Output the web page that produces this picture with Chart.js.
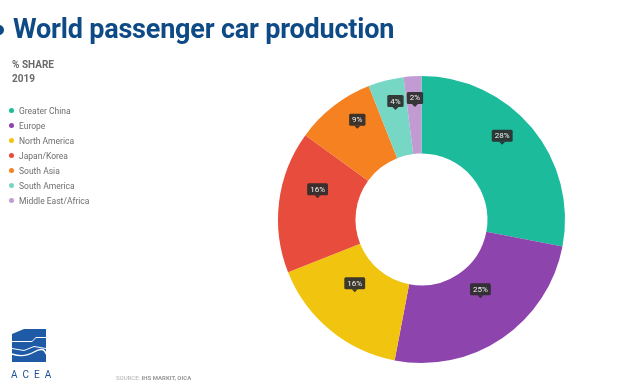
<!DOCTYPE html>
<html>
<head>
<meta charset="utf-8">
<script src="https://cdn.jsdelivr.net/npm/chart.js@4"></script>
<style>
  html,body{margin:0;padding:0;background:#fff;}
  body{width:620px;height:386px;position:relative;overflow:hidden;font-family:Roboto,"Noto Sans",sans-serif;}
  #c{position:absolute;left:0;top:0;}
  .title{position:absolute;left:13px;top:13px;font-size:27px;font-weight:700;color:#0e4a86;white-space:nowrap;letter-spacing:-0.2px;}
  .dot0{position:absolute;left:-6px;top:25px;width:10px;height:10px;border-radius:50%;background:#0e4a86;}
  .sub{position:absolute;left:12px;font-size:10px;font-weight:700;color:#6a6a6a;}
  .leg{position:absolute;left:9px;font-size:8.5px;color:#6e6e6e;white-space:nowrap;}
  .leg span{display:inline-block;width:5px;height:5px;border-radius:50%;margin-right:5px;vertical-align:1px;}
  .src{position:absolute;left:116px;top:374px;font-size:6px;color:#b0b0b0;white-space:nowrap;}
  .src b{color:#999;}
  .acea{position:absolute;left:11px;top:369px;font-size:10px;color:#1f4f8f;letter-spacing:5px;}
</style>
</head>
<body>
<canvas id="c" width="620" height="386"></canvas>
<div class="dot0"></div>
<div class="title">World passenger car production</div>
<div class="sub" style="top:59px;">% SHARE</div>
<div class="sub" style="top:73px;">2019</div>
<div id="legend"></div>
<svg style="position:absolute;left:10px;top:328px" width="40" height="36" viewBox="0 0 40 36">
  <polygon points="2,6 14,1 36,1 36,9 26,9 22,13 2,13" fill="#1f5aa6"/>
  <polygon points="2,14 22,14 26,10 36,10 36,20 24,18 14,22 2,20" fill="#1f5aa6"/>
  <polygon points="2,21 14,23 24,19 36,21 36,34 2,34" fill="#1f5aa6"/>
  <path d="M2,26 Q14,30 24,24 T36,26" stroke="#fff" stroke-width="1.4" fill="none"/>
</svg>
<div class="acea">ACEA</div>
<div class="src">SOURCE: <b>IHS MARKIT, OICA</b></div>
<script>
const categories = ["Greater China","Europe","North America","Japan/Korea","South Asia","South America","Middle East/Africa"];
const shares = [28, 25, 16, 16, 9, 4, 2];
const colors = ["#1cbb9b","#8e44ad","#f1c40f","#e74c3c","#f68121","#76d7c4","#c39bd3"];

const leg = document.getElementById('legend');
categories.forEach((c,i)=>{
  const d=document.createElement('div');
  d.className='leg';
  d.style.top=(106+i*15)+'px';
  d.innerHTML='<span style="background:'+colors[i]+'"></span>'+c;
  leg.appendChild(d);
});

const labelPlugin = {
  id:'boxLabels',
  afterDatasetsDraw(chart){
    const ctx=chart.ctx;
    const meta=chart.getDatasetMeta(0);
    ctx.save();
    ctx.font='8px Roboto, sans-serif';
    ctx.textAlign='center';
    ctx.textBaseline='middle';
    meta.data.forEach((arc,i)=>{
      const p=arc.tooltipPosition();
      const txt=shares[i]+'%';
      const w=ctx.measureText(txt).width+6;
      const h=12;
      const cx=p.x, cy=p.y-17;
      ctx.fillStyle='rgba(45,45,45,0.92)';
      ctx.beginPath();
      ctx.roundRect(cx-w/2, cy-h/2, w, h, 1.5);
      ctx.fill();
      ctx.beginPath();
      ctx.moveTo(cx-3, cy+h/2);
      ctx.lineTo(cx+3, cy+h/2);
      ctx.lineTo(cx, cy+h/2+3);
      ctx.closePath();
      ctx.fill();
      ctx.fillStyle='#f2f2f2';
      ctx.fillText(txt, cx, cy+0.5);
    });
    ctx.restore();
  }
};

new Chart(document.getElementById('c'),{
  type:'doughnut',
  data:{labels:categories,datasets:[{data:shares,backgroundColor:colors,borderWidth:0}]},
  options:{
    responsive:false,animation:false,
    cutout:'46%',
    layout:{padding:{left:278,right:55,top:76,bottom:23}},
    plugins:{legend:{display:false},tooltip:{enabled:false}}
  },
  plugins:[labelPlugin]
});
</script>
</body>
</html>
